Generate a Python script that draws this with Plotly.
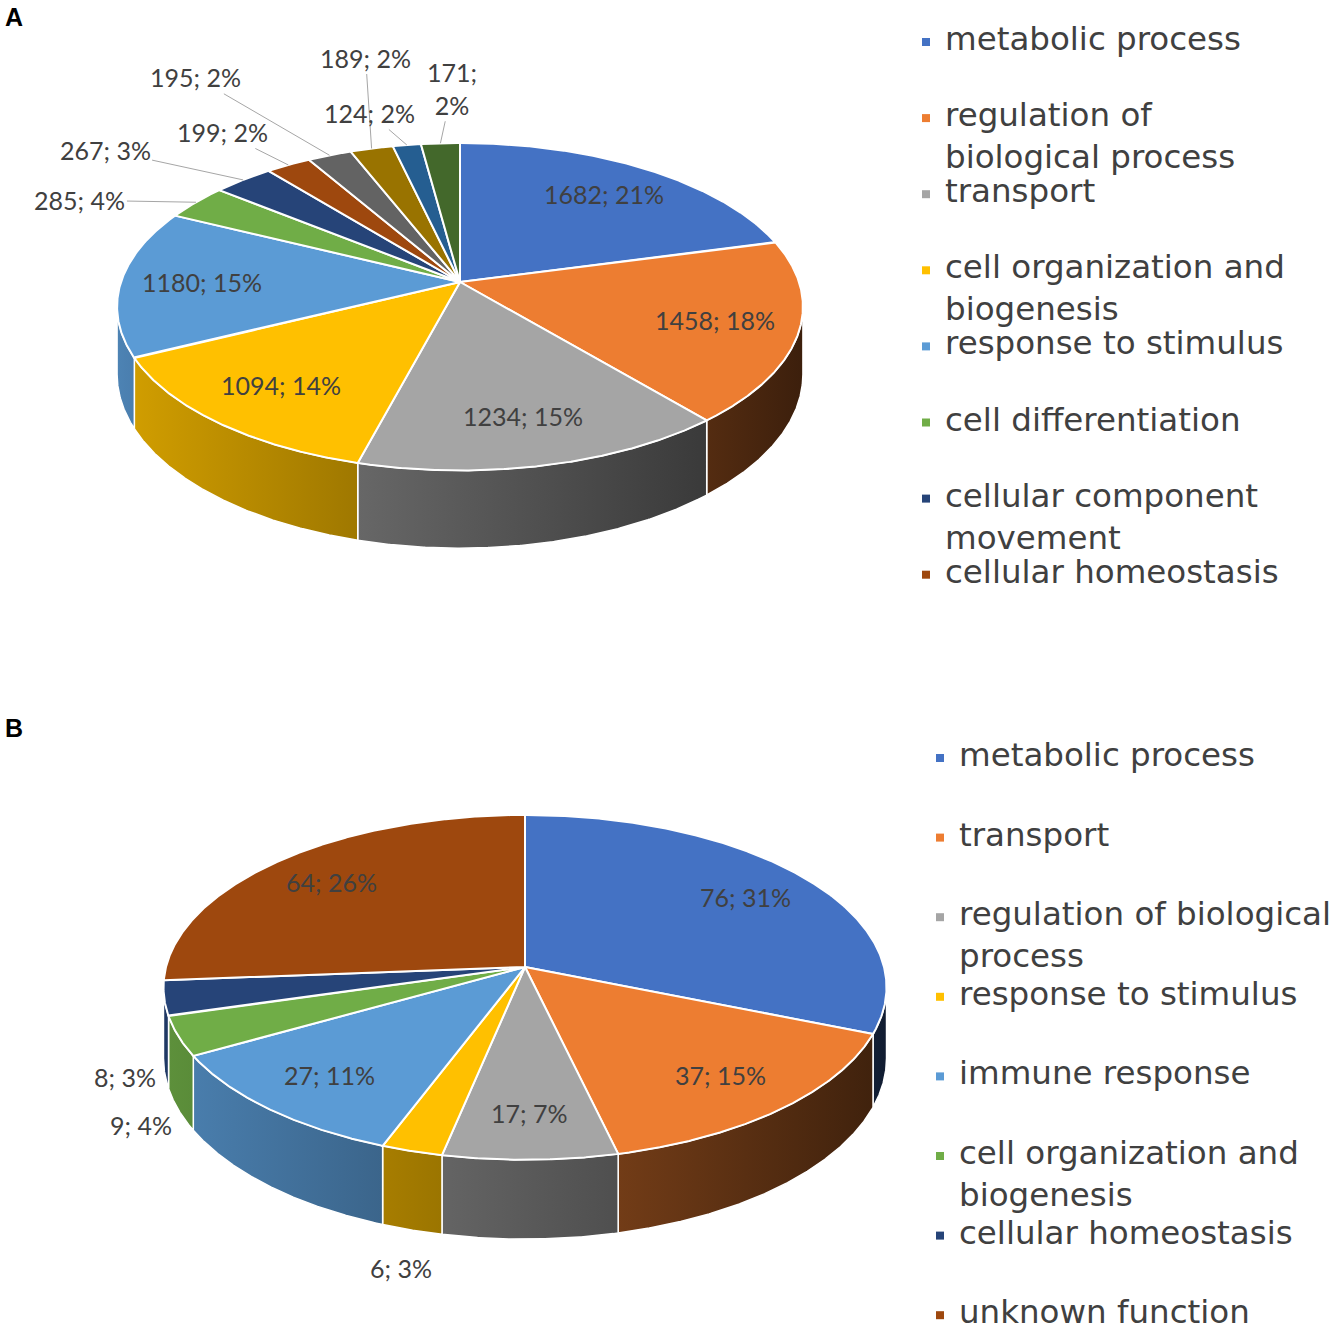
import textwrap
import numpy as np
import plotly.graph_objects as go

# -------------------------------------------------
# data
# -------------------------------------------------
a_terms = ["metabolic process", "regulation of biological process", "transport",
           "cell organization and biogenesis", "response to stimulus",
           "cell differentiation", "cellular component movement", "cellular homeostasis"]
a_counts = [1682, 1458, 1234, 1094, 1180, 285, 267, 199, 195, 189, 124, 171]
a_pct = [21, 18, 15, 14, 15, 4, 3, 2, 2, 2, 2, 2]

b_terms = ["metabolic process", "transport", "regulation of biological process",
           "response to stimulus", "immune response", "cell organization and biogenesis",
           "cellular homeostasis", "unknown function"]
b_counts = [76, 37, 17, 6, 27, 9, 8, 64]
b_pct = [31, 15, 7, 3, 11, 4, 3, 26]

# excel office palette
office = ["#4472C4", "#ED7D31", "#A5A5A5", "#FFC000", "#5B9BD5", "#70AD47",
          "#264478", "#9E480E", "#636363", "#997300", "#255E91", "#43682B"]

TXT = "#404040"
LBL_FONT = "Lato, Liberation Sans, sans-serif"
LEG_FONT = "DejaVu Sans, sans-serif"

# -------------------------------------------------
# panel geometry (screen pixels, tilted disc with a bit of perspective)
# -------------------------------------------------
A = dict(cx=460, cy=282, R=339, Ry=160, p=0.151, H=66, lab_r=0.76,
         leg_x=926, leg_y0=40, leg_step=76.1, wrap=22,
         # leader-line offsets for the small slices (ax, ay, wrap text)
         callout=[(-116, -2, False), (-138, -30, False), (-66, -33, False),
                  (-134, -78, False), (-6, -91, False), (-37, -32, False),
                  (12, -55, True)])
B = dict(cx=525, cy=967, R=359, Ry=170, p=0.118, H=70, lab_r=0.78,
         leg_x=940, leg_y0=756, leg_step=79.6, wrap=24, out_gap=40)


def proj(g, r, th, drop=0.0):
    c, s = np.cos(th), np.sin(th)
    w = 1 + g["p"] * r * c
    x = g["cx"] + g["R"] * r * s / w
    y = g["cy"] - g["Ry"] * r * c / w + drop * g["H"] / w
    return x, y


def shade(hexc, th):
    f = 0.55 - 0.3 * np.sin(th)
    r, gg, b = (int(hexc[i:i + 2], 16) for i in (1, 3, 5))
    return f"rgb({int(r * f)},{int(gg * f)},{int(b * f)})"


fig = go.Figure()
annos = []


def draw_pie(g, counts, pct, terms, letter, ly):
    total = float(sum(counts))
    cum = np.concatenate([[0], np.cumsum(counts)]) / total * 2 * np.pi
    thL = np.arccos(-g["p"])
    thR = 2 * np.pi - thL

    # side walls first
    for i in range(len(counts)):
        lo, hi = max(cum[i], thL), min(cum[i + 1], thR)
        if hi <= lo:
            continue
        th = np.linspace(lo, hi, max(4, int((hi - lo) / 0.004)))
        x1, y1 = proj(g, 1, th)
        x2, y2 = proj(g, 1, th, drop=1)
        xs = np.concatenate([x1, x2[::-1], x1[:1]])
        ys = np.concatenate([y1, y2[::-1], y1[:1]])
        fig.add_trace(go.Scatter(
            x=xs, y=ys, mode="lines", fill="toself",
            fillcolor=shade(office[i], (lo + hi) / 2),
            fillgradient=dict(type="horizontal",
                              colorscale=[[0, shade(office[i], hi)],
                                          [1, shade(office[i], lo)]]),
            line=dict(color="white", width=1.5), hoverinfo="skip"))

    # top faces
    for i in range(len(counts)):
        a, b = cum[i], cum[i + 1]
        th = np.linspace(a, b, max(4, int((b - a) / 0.004)))
        x, y = proj(g, 1, th)
        xs = np.concatenate([[g["cx"]], x, [g["cx"]]])
        ys = np.concatenate([[g["cy"]], y, [g["cy"]]])
        fig.add_trace(go.Scatter(
            x=xs, y=ys, mode="lines", fill="toself", fillcolor=office[i],
            line=dict(color="white", width=2), hoverinfo="skip",
            name=terms[i] if i < len(terms) else ""))

    # data labels
    k = 0
    for i in range(len(counts)):
        mid = (cum[i] + cum[i + 1]) / 2
        txt = f"{counts[i]}; {pct[i]}%"
        if pct[i] >= 5:
            x, y = proj(g, g["lab_r"], mid)
            annos.append(dict(x=x, y=y, text=txt, showarrow=False,
                              font=dict(family=LBL_FONT, size=25, color=TXT)))
        elif "callout" in g:
            ax, ay, wr = g["callout"][k]
            k += 1
            x, y = proj(g, 1, mid)
            annos.append(dict(x=x, y=y, ax=ax, ay=ay,
                              text=txt.replace(" ", "<br>") if wr else txt,
                              showarrow=True, arrowhead=0, arrowwidth=1,
                              arrowcolor="#a6a6a6", standoff=0,
                              font=dict(family=LBL_FONT, size=25, color=TXT)))
        else:
            x, y = proj(g, 1, mid, drop=1)
            x += g["out_gap"] * np.sin(mid)
            y -= g["out_gap"] * np.cos(mid)
            annos.append(dict(x=x, y=y, text=txt, showarrow=False,
                              font=dict(family=LBL_FONT, size=25, color=TXT)))

    # legend (only the named terms)
    ys = [g["leg_y0"] + j * g["leg_step"] for j in range(len(terms))]
    fig.add_trace(go.Scatter(
        x=[g["leg_x"]] * len(terms), y=[v + 2 for v in ys], mode="markers",
        marker=dict(symbol="square", size=8, color=office[:len(terms)]),
        hoverinfo="skip"))
    for j, t in enumerate(terms):
        annos.append(dict(x=g["leg_x"] + 17, y=ys[j] - 22, xanchor="left",
                          yanchor="top", align="left", showarrow=False,
                          text="<br>".join(textwrap.wrap(t, g["wrap"])),
                          font=dict(family=LEG_FONT, size=32.5, color=TXT)))

    annos.append(dict(x=3, y=ly, xanchor="left", text=letter, showarrow=False,
                      font=dict(family="Liberation Sans, Arial", size=25,
                                color="black"), yanchor="middle"))


draw_pie(A, a_counts, a_pct, a_terms, "<b>A</b>", 17)
draw_pie(B, b_counts, b_pct, b_terms, "<b>B</b>", 728)

fig.update_layout(
    width=1330, height=1331,
    margin=dict(l=0, r=0, t=0, b=0),
    paper_bgcolor="white", plot_bgcolor="white",
    showlegend=False,
    xaxis=dict(range=[0, 1330], visible=False, fixedrange=True),
    yaxis=dict(range=[1331, 0], visible=False, fixedrange=True),
    annotations=annos,
)

fig.write_html("out.html", config={"displayModeBar": False},
               post_script="document.body.style.margin='0';")
